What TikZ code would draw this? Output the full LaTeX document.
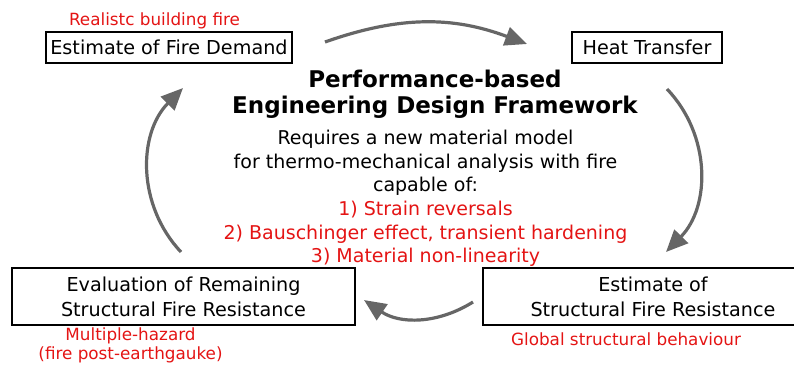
\documentclass[tikz,border=0pt]{standalone}
\usepackage{fontspec}
\setmainfont{DejaVu Sans}
\usetikzlibrary{positioning, arrows.meta}

\definecolor{firered}{RGB}{228,20,20}
\definecolor{loopgray}{RGB}{102,102,102}

\tikzset{
    stage/.style={draw, line width=1.2pt, inner sep=0pt, align=center,
        font=\fontsize{19.2}{25}\selectfont},
    note/.style={text=firered, inner sep=0pt, align=center,
        font=\fontsize{16.8}{19}\selectfont},
    cycle/.style={draw=loopgray, line width=3.2pt, -{Triangle[length=22pt, width=19pt]}},
}

\begin{document}
\begin{tikzpicture}[x=1pt, y=-1pt]
\useasboundingbox (0,0) rectangle (794,365);

% stages of the loop
\node[stage, minimum width=246pt, minimum height=31pt] (demand) at (169,47.5) {Estimate of Fire Demand};
\node[stage, minimum width=150pt, minimum height=31pt] (heat) at (647,47.5) {Heat Transfer};
\node[stage, minimum width=340pt, minimum height=57pt] (resist) at (653,296.5) {Estimate of\\Structural Fire Resistance};
\node[stage, minimum width=343pt, minimum height=57pt] (remain) at (183.5,296.5) {Evaluation of Remaining\\Structural Fire Resistance};

% red remarks
\node[note] (realfire) at (154.5,20.5) {Realistc building fire};
\node[note] (global) at (626,339) {Global structural behaviour};
\node[note] (hazard) at (130.5,345.5) {Multiple-hazard\\(fire post-earthgauke)};

% framework in the middle
\node[inner sep=0pt, align=center, font=\fontsize{23}{26.5}\selectfont\bfseries] (frame) at (435,94)
    {Performance-based\\Engineering Design Framework};
\node[inner sep=0pt, align=center, font=\fontsize{19}{23.6}\selectfont] (model) at (425.5,198.5)
    {Requires a new material model\\for thermo-mechanical analysis with fire\\capable of:\\
     \textcolor{firered}{1) Strain reversals}\\
     \textcolor{firered}{2) Bauschinger effect, transient hardening}\\
     \textcolor{firered}{3) Material non-linearity}};

% free ends of the arrows
\coordinate (a1) at (325,42);
\coordinate (b1) at (527,44);
\coordinate (a2) at (667,89);
\coordinate (b2) at (666,252);
\coordinate (a3) at (473,302);
\coordinate (b3) at (364,300);
\coordinate (a4) at (181,252);
\coordinate (b4) at (183,88);

\draw[cycle] (a1) to[bend left=20] (b1);
\draw[cycle] (a2) to[bend left=44] (b2);
\draw[cycle] (a3) to[bend left=33] (b3);
\draw[cycle] (a4) to[bend left=44] (b4);
\end{tikzpicture}
\end{document}
